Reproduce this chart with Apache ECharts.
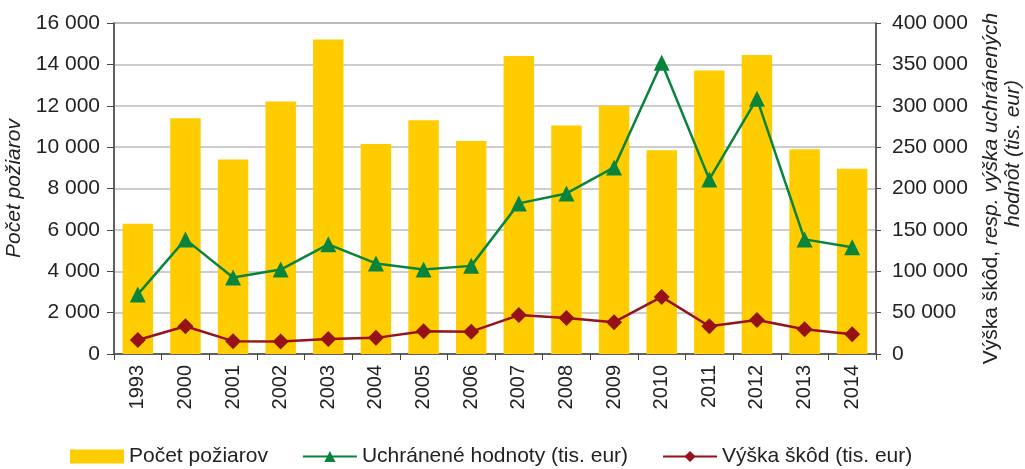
<!DOCTYPE html>
<html>
<head>
<meta charset="utf-8">
<script src="https://cdn.jsdelivr.net/npm/echarts@6/dist/echarts.min.js"></script>
<style>
  html, body { margin: 0; padding: 0; background: #fff; }
  #chart { width: 1025px; height: 469px; }
</style>
</head>
<body>
<div id="chart"></div>
<script>
// roky
var years = ["1993", "2000", "2001", "2002", "2003", "2004", "2005", "2006",
  "2007", "2008", "2009", "2010", "2011", "2012", "2013", "2014"];
// počet požiarov (ľavá os)
var pocetPoziarov = [6300, 11400, 9400, 12200, 15200, 10150, 11300, 10300,
  14400, 11050, 12000, 9850, 13700, 14450, 9900, 8950];
// uchránené hodnoty, tis. eur (pravá os)
var uchraneneHodnoty = [72000, 138500, 92500, 102000, 132500, 109500, 102000, 106500,
  182000, 194000, 225500, 352000, 211000, 308500, 138500, 129000];
// výška škôd, tis. eur (pravá os)
var vyskaSkod = [17000, 33500, 15500, 15000, 18000, 19500, 27500, 27000,
  47000, 43500, 38500, 69000, 33500, 41000, 30000, 24000];

var leftTicks = { min: 0, max: 16000, interval: 2000 };
var rightTicks = { min: 0, max: 400000, interval: 50000 };

function fmt(v) {
  return String(v).replace(/\B(?=(\d{3})+(?!\d))/g, " ");
}

var chart = echarts.init(document.getElementById("chart"));
var txt = "#222";
var font = "Liberation Sans";

var option = {
  backgroundColor: "#fff",
  animation: false,
  textStyle: { fontFamily: font },
  grid: {
    left: 114, right: 149, top: 23, bottom: 115,
    containLabel: false,
    outerBoundsMode: "none",
    show: true, borderColor: "#666", borderWidth: 1
  },
  legend: {
    left: 65, top: 441,
    itemWidth: 54, itemHeight: 14, itemGap: 34,
    textStyle: { fontSize: 21, color: txt, fontFamily: font },
    data: [
      { name: "Počet požiarov", icon: "rect" },
      "Uchránené hodnoty (tis. eur)",
      "Výška škôd (tis. eur)"
    ]
  },
  xAxis: {
    type: "category",
    data: years,
    boundaryGap: true,
    axisLine: { lineStyle: { color: "#444", width: 1.5 } },
    axisTick: { show: true, length: 6, lineStyle: { color: "#444" } },
    axisLabel: { rotate: 90, fontSize: 20, color: txt, margin: 11 }
  },
  yAxis: [
    {
      type: "value",
      min: leftTicks.min, max: leftTicks.max, interval: leftTicks.interval,
      name: "Počet požiarov",
      nameLocation: "middle",
      nameGap: 87,
      nameRotate: 90,
      nameTextStyle: { fontSize: 21, fontStyle: "italic", color: txt },
      axisLine: { show: true, lineStyle: { color: "#444", width: 1.5 } },
      axisTick: { show: true, length: 7, lineStyle: { color: "#444" } },
      axisLabel: { fontSize: 21, color: txt, margin: 14, formatter: fmt },
      splitLine: { lineStyle: { color: "#bdbdbd", width: 1.5 } }
    },
    {
      type: "value",
      min: rightTicks.min, max: rightTicks.max, interval: rightTicks.interval,
      position: "right",
      name: "{n|Výška škôd,} {i|resp. výška uchránených}\n{h|hodnôt (tis. eur)}",
      nameLocation: "middle",
      nameGap: 104,
      nameRotate: 90,
      nameTextStyle: {
        fontSize: 21, color: txt, align: "center", lineHeight: 22,
        rich: {
          n: { fontSize: 21, color: txt, fontFamily: font },
          i: { fontSize: 21, color: txt, fontStyle: "italic", fontFamily: font },
          h: { fontSize: 21, color: txt, fontStyle: "italic", fontFamily: font, padding: [0, 0, 0, 70] }
        }
      },
      axisLine: { show: true, lineStyle: { color: "#444", width: 1.5 } },
      axisTick: { show: true, length: 5, lineStyle: { color: "#444" } },
      axisLabel: { fontSize: 21, color: txt, margin: 16, formatter: fmt },
      splitLine: { show: false }
    }
  ],
  series: [
    {
      name: "Počet požiarov",
      type: "bar",
      yAxisIndex: 0,
      barCategoryGap: "36%",
      itemStyle: { color: "#FFCC00" },
      data: pocetPoziarov
    },
    {
      name: "Uchránené hodnoty (tis. eur)",
      type: "line",
      yAxisIndex: 1,
      symbol: "triangle",
      symbolSize: 16,
      itemStyle: { color: "#08843c" },
      lineStyle: { color: "#08843c", width: 2.5 },
      data: uchraneneHodnoty
    },
    {
      name: "Výška škôd (tis. eur)",
      type: "line",
      yAxisIndex: 1,
      symbol: "diamond",
      symbolSize: 16,
      itemStyle: { color: "#951219" },
      lineStyle: { color: "#951219", width: 2.5 },
      data: vyskaSkod
    }
  ]
};

chart.setOption(option);
</script>
</body>
</html>
